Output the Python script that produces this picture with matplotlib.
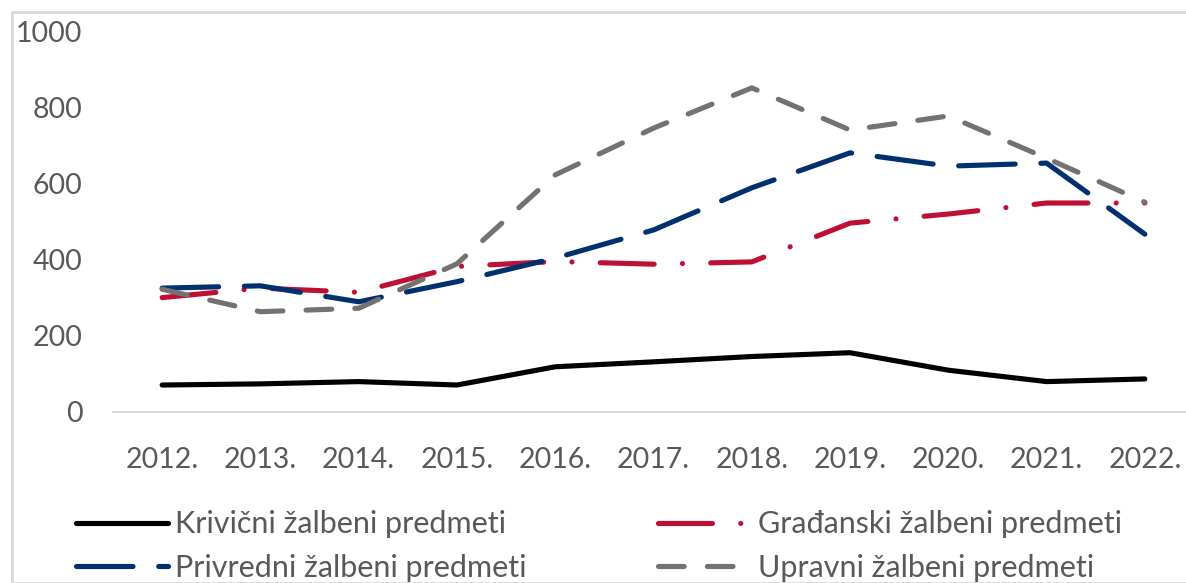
import matplotlib
matplotlib.use("Agg")
import matplotlib.pyplot as plt
from matplotlib.patches import Rectangle

plt.rcParams["font.family"] = ["Lato", "DejaVu Sans"]

# ── podaci ───────────────────────────────────────────────────────────────────
godine = ["2012.", "2013.", "2014.", "2015.", "2016.", "2017.", "2018.", "2019.", "2020.", "2021.", "2022."]
krivicni = [71, 74, 80, 71, 119, 132, 146, 156, 110, 80, 87]
gradjanski = [301, 326, 315, 383, 396, 389, 395, 497, 521, 550, 550]
privredni = [326, 332, 290, 343, 405, 479, 590, 682, 647, 655, 468]
upravni = [323, 264, 273, 390, 624, 747, 853, 742, 779, 668, 552]

W, H = 1186, 583
fig = plt.figure(figsize=(W / 100, H / 100), dpi=100)
fig.patch.set_facecolor("white")
fig.add_artist(Rectangle((12 / W, 0), 1.2, 1 - 12 / H, transform=fig.transFigure,
                         fill=False, edgecolor="#d9d9d9", lw=2))

ax = fig.add_axes([113 / W, 1 - 412 / H, 1081 / W, 380 / H])
ax.set_facecolor("none")
x = list(range(len(godine)))

lk, = ax.plot(x, krivicni, color="black", lw=3.7, solid_capstyle="round", solid_joinstyle="round",
              label="Krivični žalbeni predmeti", zorder=3)
lg, = ax.plot(x, gradjanski, color="#be1034", lw=3.7, dashes=(10.5, 5.5, 0.01, 5.5),
              dash_capstyle="round", label="Građanski žalbeni predmeti", zorder=4)
lp, = ax.plot(x, privredni, color="#00306e", lw=3.7, dashes=(11, 5),
              dash_capstyle="round", label="Privredni žalbeni predmeti", zorder=5)
lu, = ax.plot(x, upravni, color="#767171", lw=3.7, dashes=(5, 4.5),
              dash_capstyle="round", label="Upravni žalbeni predmeti", zorder=6)

ax.set_xlim(-0.5, 10.5)
ax.set_ylim(0, 1000)
ax.set_yticks(range(0, 1001, 200))
ax.set_xticks(x)
ax.set_xticklabels(godine)
ax.tick_params(axis="both", length=0, labelsize=20.5, labelcolor="#595959")
ax.tick_params(axis="x", pad=25)
ax.tick_params(axis="y", pad=22)
for s in ["top", "right", "left"]:
    ax.spines[s].set_visible(False)
ax.spines["bottom"].set_color("#d9d9d9")
ax.spines["bottom"].set_linewidth(1.5)

# redosled: kolona 1 = krivicni, privredni; kolona 2 = gradjanski, upravni
fig.legend(handles=[lk, lp, lg, lu], loc="center left", bbox_to_anchor=(76 / W, 1 - 546 / H),
           ncol=2, frameon=False, fontsize=22, handlelength=3.0, handletextpad=0.25,
           columnspacing=4.3, labelspacing=0.5, labelcolor="#595959", borderaxespad=0,
           borderpad=0)

fig.savefig("out.png", dpi=100, facecolor="white")
